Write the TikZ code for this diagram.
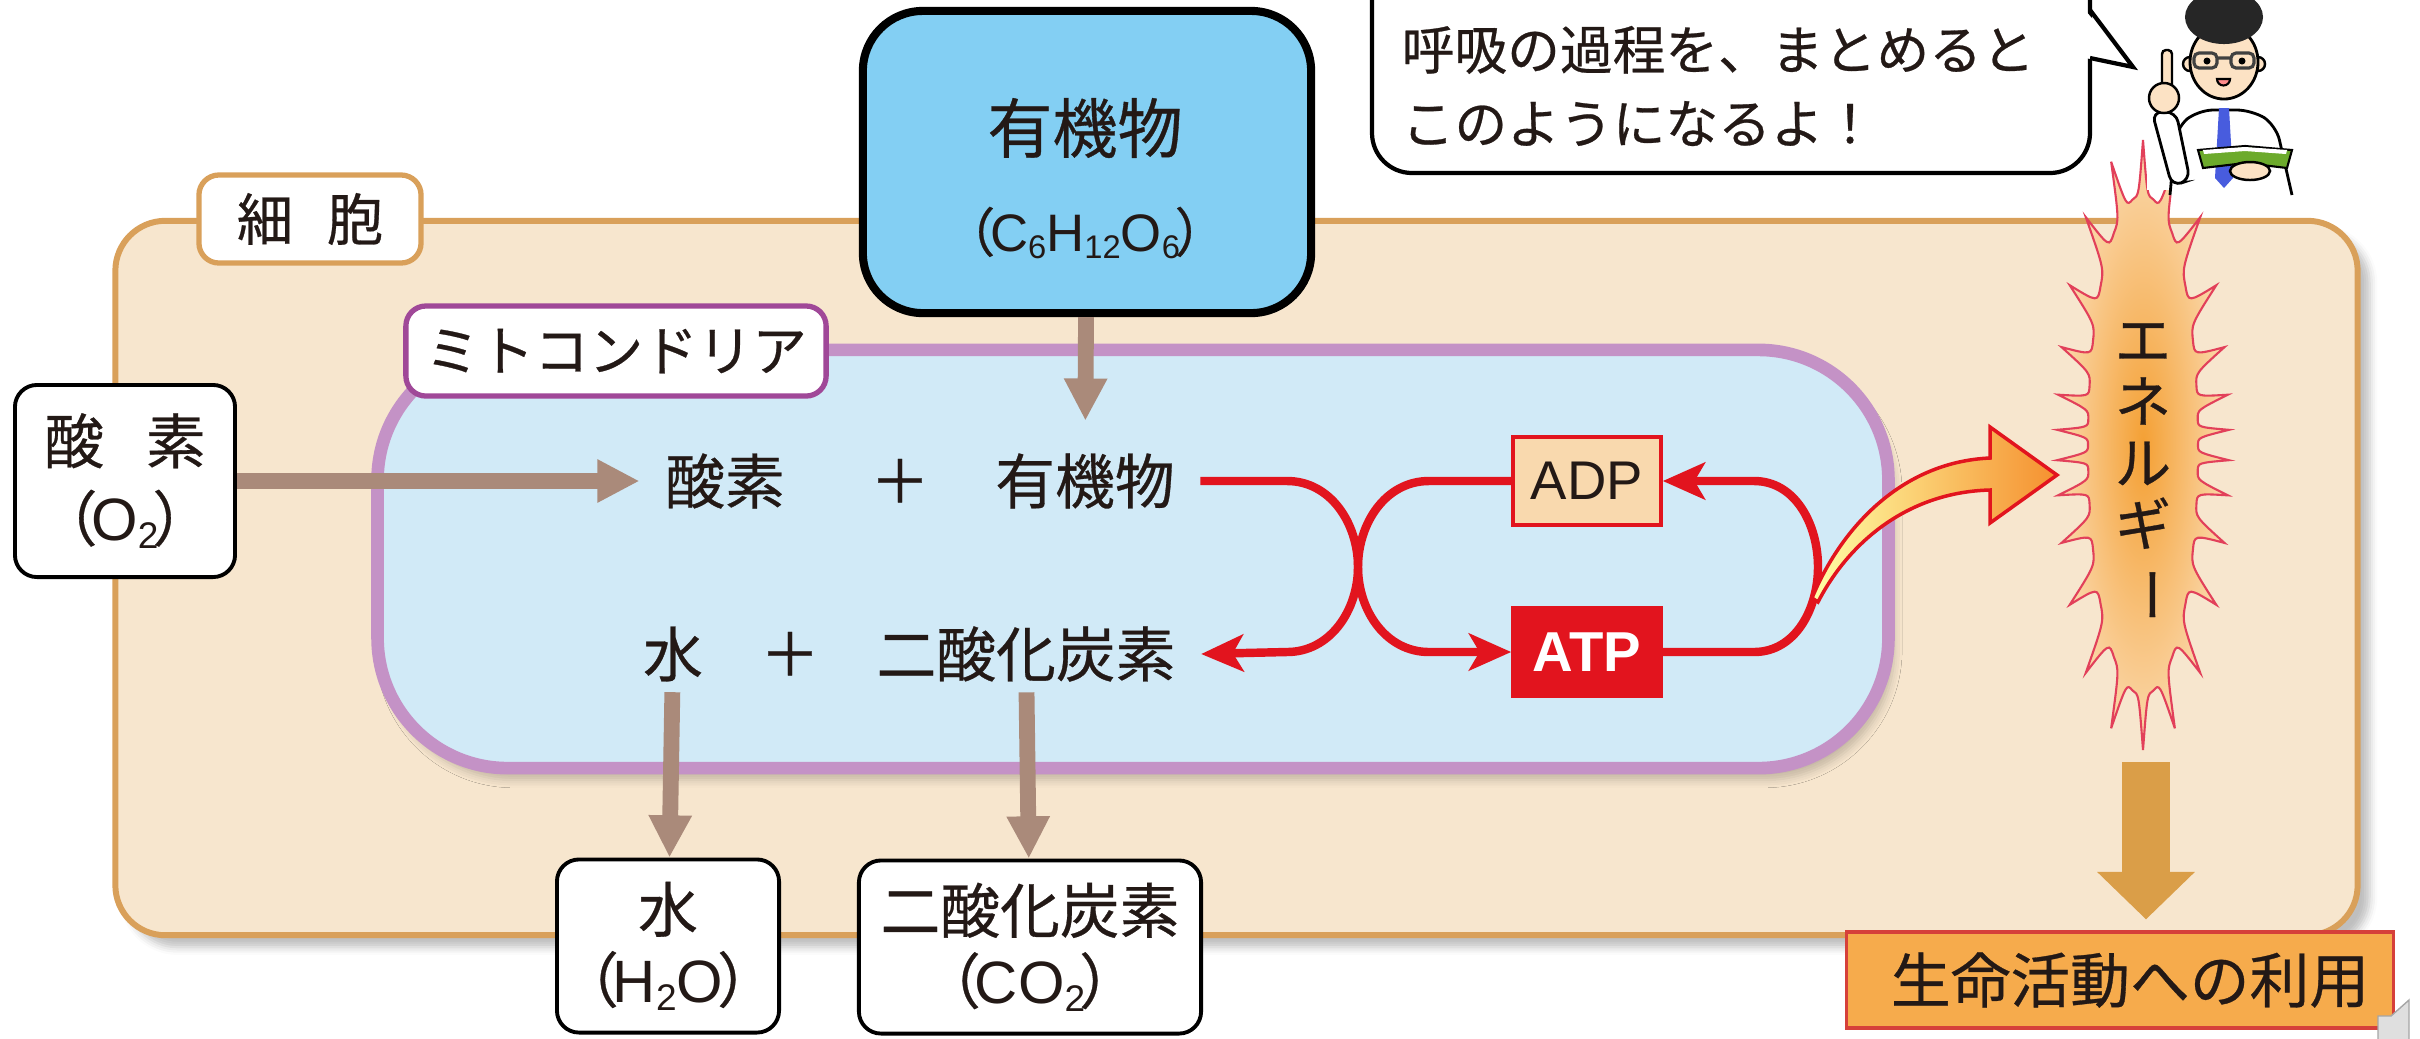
\documentclass[tikz,border=0pt]{standalone}
\usepackage{fontspec}
\usepackage{graphicx}
\setmainfont{Noto Sans CJK JP}[FakeBold=0.5]
\newfontfamily\hel{Liberation Sans}
\usetikzlibrary{arrows.meta,calc,shadows.blur}

\definecolor{cellfill}{RGB}{247,230,206}
\definecolor{celledge}{RGB}{217,160,90}
\definecolor{mitofill}{RGB}{209,234,247}
\definecolor{mitoedge}{RGB}{196,146,198}
\definecolor{mitolabel}{RGB}{160,72,152}
\definecolor{sugarfill}{RGB}{131,207,243}
\definecolor{flow}{RGB}{170,138,122}
\definecolor{atpred}{RGB}{226,20,30}
\definecolor{adpfill}{RGB}{249,217,174}
\definecolor{burst}{RGB}{244,160,52}
\definecolor{burstedge}{RGB}{226,64,90}
\definecolor{gold}{RGB}{218,158,72}
\definecolor{usefill}{RGB}{246,171,76}
\definecolor{useedge}{RGB}{214,64,58}
\definecolor{ink}{RGB}{35,25,22}
\definecolor{skin}{RGB}{252,226,196}
\definecolor{tieblue}{RGB}{72,92,222}
\definecolor{bookgreen}{RGB}{108,170,44}

% small lowered digits for the formulas
\newcommand\subnum[1]{\raisebox{-0.25ex}{\scalebox{0.62}{#1}}}
% full-width brackets, pulled in a little
\newcommand\paren[1]{（\kern-0.1em{#1}\kern-0.1em）}

\tikzset{
  body/.style={font=\fontsize{17}{20}\selectfont, text=ink},
  formula/.style={body, inner xsep=0.25cm, inner ysep=0.1cm},
  matter/.style={body, draw=black, line width=1.1pt, fill=white, rounded corners=0.22cm, align=center, inner xsep=0pt},
  tag/.style={fill=white, line width=1.5pt, rounded corners=0.2cm, text=ink},
  flowarrow/.style={draw=flow, line width=4.5pt, -{Triangle[length=12pt,width=11.5pt]}},
  redflow/.style={draw=atpred, line width=2.4pt, -{Stealth[length=12pt,width=10.5pt,inset=3pt]}},
  nucleotide/.style={draw=atpred, line width=1pt, minimum width=1.48cm, minimum height=0.88cm}
}

\begin{document}
\begin{tikzpicture}[x=0.01cm, y=0.01cm]
\useasboundingbox (0,0) rectangle (2420,-1038);
\clip (0,0) rectangle (2420,-1038);

% cell and mitochondrion
\node[draw=celledge, fill=cellfill, line width=1.7pt, rounded corners=0.5cm,
      minimum width=22.41cm, minimum height=7.14cm,
      blur shadow={shadow xshift=0.12cm, shadow yshift=-0.12cm, shadow opacity=25}] (cell) at (1236.5,-578) {};
\node[tag, draw=celledge, minimum width=2.22cm, minimum height=0.88cm, font=\fontsize{16}{18}\selectfont] (cellname) at (310,-219) {細\hspace{0.6em}胞};

\node[draw=mitoedge, fill=mitofill, line width=3.6pt, rounded corners=1.3cm,
      minimum width=15.1cm, minimum height=4.18cm,
      blur shadow={shadow xshift=0.06cm, shadow yshift=-0.12cm, shadow opacity=20}] (mito) at (1133,-559) {};
\node[tag, draw=mitolabel, minimum width=4.2cm, minimum height=0.9cm, font=\fontsize{15.5}{18}\selectfont] (mitoname) at (616,-351) {ミトコンドリア};

% glucose coming in from the top
\node[draw=black, line width=2.3pt, fill=sugarfill, rounded corners=0.6cm, minimum width=4.48cm, minimum height=3.02cm] (sugar) at (1087,-162) {};
\node[font=\fontsize{18.5}{22}\selectfont, text=ink] (sugarname) at (1085,-128) {有機物};
\node[font=\fontsize{15}{18}\selectfont, text=ink] (sugarformula) at (1085,-233) {\paren{\hel C\subnum{6}H\subnum{12}O\subnum{6}}};

% reaction inside the mitochondrion
\node[formula] (oxy) at (725,-481) {酸素};
\node[formula] (plusa) at (900,-481) {＋};
\node[formula] (org) at (1085,-481) {有機物};
\node[formula] (water) at (673,-654) {水};
\node[formula] (plusb) at (790,-654) {＋};
\node[formula] (co2) at (1026,-654) {二酸化炭素};

\node[nucleotide, fill=adpfill, text=ink, font=\hel\fontsize{15.5}{18}\selectfont] (adp) at (1587,-481) {ADP};
\node[nucleotide, fill=atpred, text=white, font=\hel\bfseries\fontsize{16}{19}\selectfont] (atp) at (1587,-652) {ATP};

% substances in and out
\node[matter, minimum width=2.2cm, minimum height=1.92cm] (oxygen) at (125,-481) {酸\hspace{0.7em}素\\[2pt]\paren{\hel O\subnum{2}}};
\node[matter, minimum width=2.22cm, minimum height=1.73cm] (waterbox) at (668,-946) {水\\\paren{\hel H\subnum{2}O}};
\node[matter, minimum width=3.42cm, minimum height=1.73cm] (co2box) at (1030,-947) {二酸化炭素\\\paren{\hel CO\subnum{2}}};

\draw[flowarrow] (oxygen) -- (oxy);
\draw[flowarrow, shorten >=0.22cm] (sugar) -- (org);
\draw[flowarrow] (water) -- (waterbox);
\draw[flowarrow] (co2) -- (co2box);

% ATP cycle
\draw[redflow] (org.east) -- (1287,-481) to[out=0,in=90] (1358,-567) to[out=-90,in=0] (1287,-652) -- (co2.east);
\draw[redflow] (adp.west) -- (1429,-481) to[out=180,in=90] (1358,-567) to[out=-90,in=180] (1429,-652) -- (atp.west);
\draw[redflow] (atp.east) -- (1754,-652) to[out=0,in=-90] (1818,-567) to[out=90,in=0] (1754,-481) -- (adp.east);

% energy released: flame-like burst, spikes spread evenly round the outline
\draw[draw=burstedge, line width=0.6pt, inner color=burst, outer color=burst!40!white]
  (2198,-445)
  \foreach \k [evaluate=\k as \ta using {360*(\k/26) - 17*sin(720*(\k/26))},
               evaluate=\k as \tm using {360*((\k+0.5)/26) - 17*sin(720*((\k+0.5)/26))},
               evaluate=\k as \tb using {360*((\k+1)/26) - 17*sin(720*((\k+1)/26))}] in {0,...,25}
  { .. controls ({2143+55*cos(0.4*\ta+0.6*\tm)}, {-445+250*sin(0.4*\ta+0.6*\tm)})
    .. ({2143+86*cos(\tm)}, {-445+305*sin(\tm)})
    .. controls ({2143+55*cos(0.4*\tb+0.6*\tm)}, {-445+250*sin(0.4*\tb+0.6*\tm)})
    .. ({2143+55*cos(\tb)}, {-445+250*sin(\tb)}) } -- cycle;
\node[font=\fontsize{16}{17.5}\selectfont, text=ink, align=center, inner sep=0pt] (energy) at (2143,-473)
  {エ\\ネ\\ル\\ギ\\\rotatebox[origin=c]{-90}{ー}};

\draw[draw=atpred, line width=1pt, left color=yellow!35!white, right color=burst!90!red]
  (1812,-598) .. controls (1840,-530) and (1900,-462) .. (1990,-458) -- (1990,-427) -- (2057,-475)
  -- (1990,-523) -- (1990,-490) .. controls (1910,-492) and (1850,-540) .. (1818,-602) -- cycle;

\node[draw=useedge, fill=usefill, line width=0.9pt, minimum width=5.47cm, minimum height=0.96cm,
      font=\fontsize{17}{20}\selectfont, text=ink] (use) at (2120,-980) {\hspace{0.2cm}生命活動への利用};
\coordinate (burstfoot) at (2146,-762);
\draw[gold, line width=13.5pt, -{Triangle[length=13.5pt,width=27pt]}, shorten >=0.11cm] (burstfoot) -- (burstfoot |- use.north);

% speech bubble
\draw[line width=1.2pt, fill=white, rounded corners=0.4cm] (1372,40) rectangle (2090,-173);
\fill[white] (2085,-58) -- (2133,-67) -- (2085,-10) -- cycle;
\draw[line width=1.2pt] (2090,-58) -- (2133,-67) -- (2090,-10);
\node[anchor=west, align=left, inner sep=0pt, font=\fontsize{15}{21}\selectfont, text=ink] (remark) at (1401,-86)
  {呼吸の過程を、まとめると\\このようになるよ！};

% teacher
\fill[white] (2147,0) rectangle (2296,-190);
\draw[line width=0.8pt, fill=white, rounded corners=0.15cm] (2170,-195) -- (2176,-128) -- (2198,-110) -- (2252,-110) -- (2276,-125) -- (2292,-195);
\draw[line width=0.8pt, fill=white, rounded corners=0.1cm] (2152,-112) -- (2176,-112) -- (2190,-180) -- (2172,-186) -- cycle;
\fill[tieblue] (2219,-108) -- (2229,-108) -- (2233,-178) -- (2224,-188) -- (2215,-178) -- cycle;
\draw[line width=0.7pt, fill=skin, rounded corners=0.04cm] (2162,-50) rectangle (2172,-92);
\draw[line width=0.7pt, fill=skin] (2164,-98) ellipse [x radius=0.15cm, y radius=0.15cm];
\draw[line width=0.7pt, fill=skin] (2190,-64) circle [radius=0.07cm] (2258,-64) circle [radius=0.07cm];
\draw[line width=0.8pt, fill=skin] (2224,-62) ellipse [x radius=0.34cm, y radius=0.37cm];
\fill[black!85] (2224,-17) ellipse [x radius=0.39cm, y radius=0.27cm];
\draw[line width=0.9pt, black!75, rounded corners=0.05cm] (2194,-53) rectangle (2217,-68) (2231,-53) rectangle (2254,-68) (2217,-58) -- (2231,-58);
\fill (2207,-61) circle [radius=0.035cm] (2242,-61) circle [radius=0.035cm];
\draw[line width=0.6pt, fill=red!45] (2217,-79) arc [start angle=180, end angle=360, radius=0.065cm] -- cycle;
\draw[line width=0.6pt, fill=bookgreen] (2198,-150) -- (2245,-146) -- (2292,-150) -- (2287,-168) -- (2245,-163) -- (2203,-168) -- cycle;
\fill[white] (2203,-150) -- (2245,-147) -- (2287,-150) -- (2286,-154) -- (2245,-151) -- (2204,-154) -- cycle;
\draw[line width=0.7pt, fill=skin] (2250,-171) ellipse [x radius=0.2cm, y radius=0.09cm];

% speaker icon
\draw[gray!70, fill=gray!25] (2378,-1016) -- (2391,-1016) -- (2409,-1000) -- (2409,-1045) -- (2378,-1045) -- cycle;
\end{tikzpicture}
\end{document}
